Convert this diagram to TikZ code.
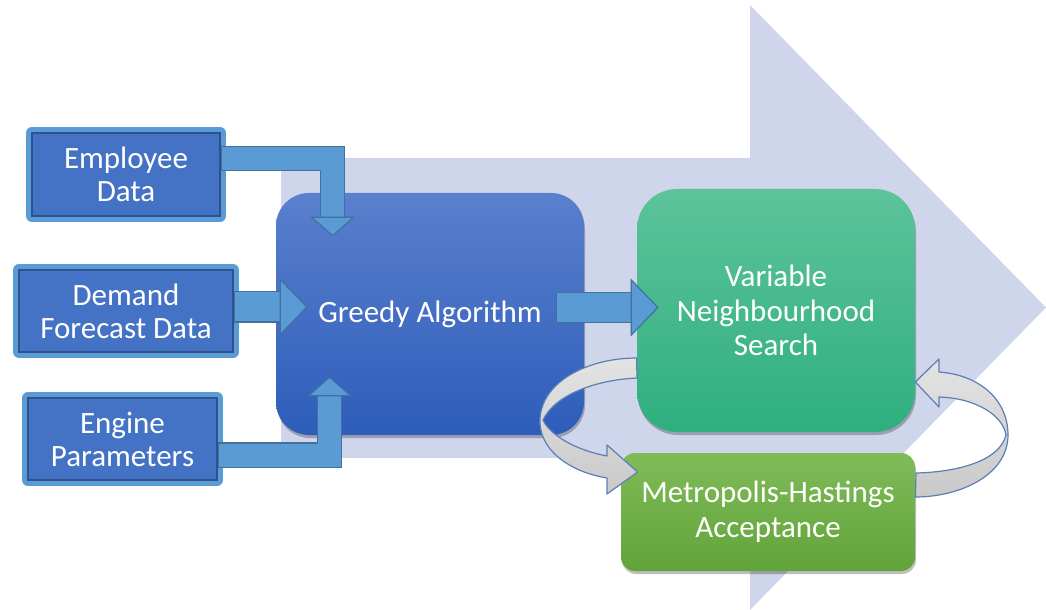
\documentclass[tikz,border=0pt]{standalone}
\usepackage{fontspec}
\setmainfont{Carlito}
\usetikzlibrary{arrows.meta,calc,shadows}

\definecolor{bgarrow}{HTML}{CFD5EA}
\definecolor{inblue}{HTML}{4472C4}
\definecolor{inring}{HTML}{5B9BD5}
\definecolor{inedge}{HTML}{2F528F}
\definecolor{arrowblue}{HTML}{5B9BD5}
\definecolor{arrowedge}{HTML}{41719C}
\definecolor{greedytop}{HTML}{5A80CD}
\definecolor{greedybot}{HTML}{2D5DBA}
\definecolor{vnstop}{HTML}{5DC39B}
\definecolor{vnsbot}{HTML}{2EAF7F}
\definecolor{metrotop}{HTML}{80BB58}
\definecolor{metrobot}{HTML}{61A43A}
\definecolor{ribbonedge}{HTML}{5B7FB5}

\tikzset{
  inbox/.style={rectangle, draw=inedge, line width=0.6pt, fill=inblue, text=white,
    align=center, inner sep=0pt, font=\fontsize{15.5}{16.5}\selectfont,
    preaction={draw=inring, line width=6pt, line join=round}},
  stage/.style={rectangle, text=white, align=center, inner sep=0pt,
    font=\fontsize{15.5}{17.3}\selectfont,
    drop shadow={shadow xshift=0.5pt, shadow yshift=-1.5pt, opacity=0.25, fill=black}},
  feed/.style={draw=arrowblue, line width=11.5pt, shorten <=0.5pt,
    -{Triangle[length=10pt,width=22.5pt,line width=0.6pt,color=arrowedge,fill=arrowblue]},
    preaction={draw=arrowedge, -, line width=12.7pt, shorten <=0pt, shorten >=9pt}},
  pass/.style={draw=arrowblue, line width=14.5pt, shorten <=0.5pt,
    -{Triangle[length=14pt,width=29pt,line width=0.6pt,color=arrowedge,fill=arrowblue]},
    preaction={draw=arrowedge, -, line width=15.7pt, shorten <=0pt, shorten >=13pt}},
  ribbon/.style={draw=ribbonedge, line width=0.6pt, line join=round,
    top color=gray!22, bottom color=gray!42}
}

\begin{document}
\begin{tikzpicture}[x=0.5pt, y=-0.5pt]
	\useasboundingbox (0,0) rectangle (1046,610);
	% background arrow
	\fill[bgarrow] (281,158) -- (750,158) -- (750,5) -- (1046,307.5) -- (750,610) -- (750,458) -- (281,458) -- cycle;

	% stages
	\node[stage, top color=greedytop, bottom color=greedybot, rounded corners=16.5pt,
		minimum width=154pt, minimum height=121pt] (greedy) at (430,314) {Greedy Algorithm};
	\node[stage, top color=vnstop, bottom color=vnsbot, rounded corners=20pt,
		minimum width=139pt, minimum height=121.5pt] (vns) at (776,310.5) {Variable\\Neighbourhood\\Search};
	\node[stage, top color=metrotop, bottom color=metrobot, rounded corners=7pt,
		minimum width=147pt, minimum height=59pt] (metro) at (768,512) {Metropolis-Hastings\\Acceptance};

	% inputs
	\node[inbox, minimum width=94pt, minimum height=41.5pt] (emp) at (126,174.5) {Employee\\Data};
	\node[inbox, minimum width=107pt, minimum height=41pt] (dem) at (126,311) {Demand\\Forecast Data};
	\node[inbox, minimum width=94.5pt, minimum height=41pt] (eng) at (122.5,439) {Engine\\Parameters};

	% loop between vns and metropolis
	\draw[ribbon] ($(vns.west)+(0,47.5)$) .. controls (590,358) and (543,380) .. (540,418)
		.. controls (538,450) and (570,472) .. (607,478)
		-- (607,494) -- ($(metro.west)+(17,-40)$) -- (607,445) -- (607,456)
		.. controls (575,450) and (550,435) .. (543,420)
		.. controls (555,395) and (595,380) .. (637,378) -- cycle;
	\draw[ribbon] ($(metro.east)+(0,-15)$) .. controls (960,497) and (1008,475) .. (1008,435)
		.. controls (1008,400) and (980,375) .. (939,372)
		-- (939,359) -- ($(vns.east)+(0,71.5)$) -- (939,407) -- (939,397)
		.. controls (975,398) and (1003,415) .. (1006,435)
		.. controls (1000,460) and (960,472) .. (916,473) -- cycle;

	% block arrows
	\draw[feed] ($(emp.east)+(0,-16)$) -| ($(greedy.north west)+(57,44)$);
	\draw[pass] ($(dem.east)+(0,-4)$) -- ($(greedy.west)+(32,-7)$);
	\draw[feed] ($(eng.east)+(0,16)$) -| ($(greedy.south west)+(54,-59)$);
	\draw[pass] ($(greedy.east)+(-28,-6.5)$) -- ($(vns.west)+(22,-3)$);
\end{tikzpicture}
\end{document}
